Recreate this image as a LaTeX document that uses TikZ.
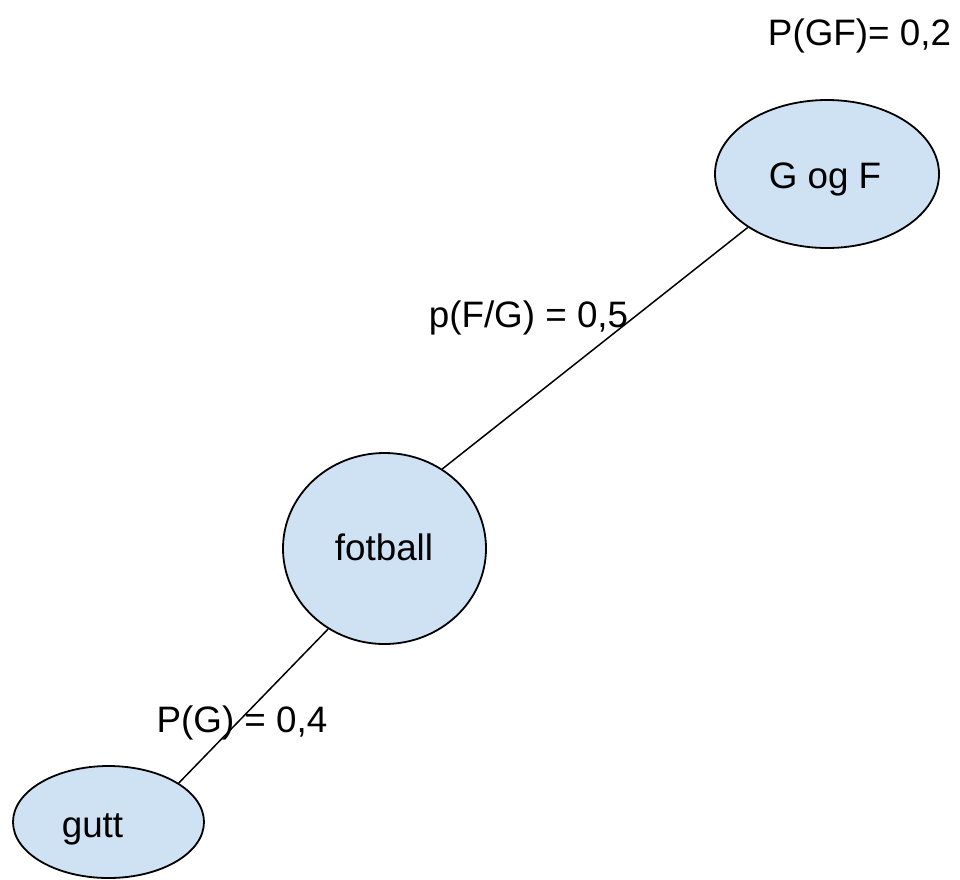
\documentclass[tikz,border=0pt]{standalone}
\usepackage{fontspec}
\setmainfont{Liberation Sans}
\usetikzlibrary{shapes.geometric}
\definecolor{bub}{HTML}{CFE2F3}
\begin{document}
\begin{tikzpicture}[x=1pt,y=-1pt,
  bubble/.style={ellipse, draw=black, line width=1.8pt, fill=bub, inner sep=0pt},
  txt/.style={font=\fontsize{36.8}{40}\selectfont, anchor=base, inner sep=0pt},
  conn/.style={draw=black, line width=1.5pt}]
\useasboundingbox (0,0) rectangle (960,879);
\node[bubble, minimum width=224pt, minimum height=148pt] (gf) at (827,174) {};
\node[bubble, minimum width=203pt, minimum height=191pt] (fot) at (384.5,548.5) {};
\node[bubble, minimum width=191pt, minimum height=112pt] (gutt) at (108.5,822) {};
\node[txt] (gftxt) at (825,188) {G og F};
\node[txt] (fottxt) at (384,560) {fotball};
\node[txt] (gutttxt) at (92.5,837) {gutt};
\draw[conn] (fot.54) -- (gf.214.4);
\draw[conn] (fot.235) -- (gutt.29.7);
\node[txt] (pgf) at (859.5,45) {P(GF)= 0,2};
\node[txt] (pfg) at (528.5,327) {p(F/G) = 0,5};
\node[txt] (pg) at (242,732) {P(G) = 0,4};
\end{tikzpicture}
\end{document}
